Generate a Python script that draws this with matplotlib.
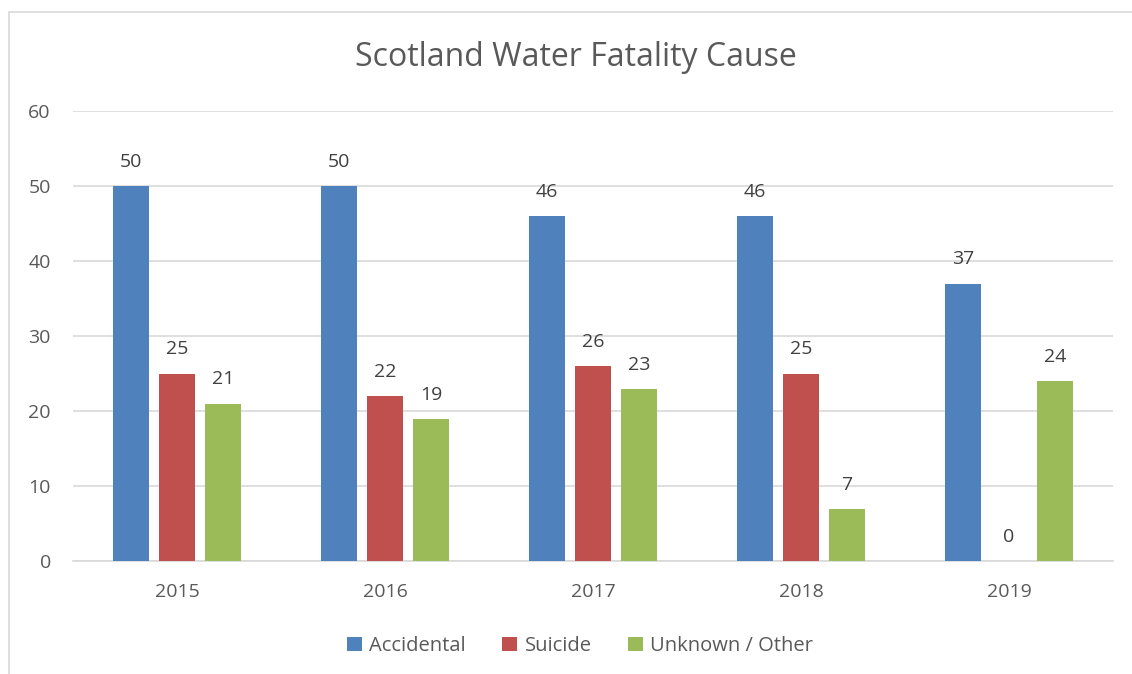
import numpy as np
import matplotlib
matplotlib.use('Agg')
import matplotlib.pyplot as plt
from matplotlib.patches import Rectangle

years = ['2015', '2016', '2017', '2018', '2019']
accidental = [50, 50, 46, 46, 37]
suicide = [25, 22, 26, 25, 0]
unknown = [21, 19, 23, 7, 24]

series = [('Accidental', accidental, '#4F81BD'),
          ('Suicide', suicide, '#C0504D'),
          ('Unknown / Other', unknown, '#9BBB59')]

plt.rcParams['font.family'] = ['Open Sans', 'DejaVu Sans']
text_col = '#595959'

fig = plt.figure(figsize=(11.32, 6.74), dpi=100)
ax = fig.add_axes([73 / 1132, 1 - 561 / 674, 1040 / 1132, 450 / 674])

# рамка діаграми (видно лише ліву і верхню сторони)
fig.patches.append(Rectangle((9 / 1132, -0.1), 1.2, 1 - 12 / 674 + 0.1,
                             transform=fig.transFigure, fill=False,
                             edgecolor='#D9D9D9', linewidth=1.2))

x = np.arange(len(years))
width = 0.173
step = 0.221
for i, (name, vals, col) in enumerate(series):
    pos = x + (i - 1) * step
    ax.bar(pos, vals, width, color=col, label=name, zorder=3)
    for p, v in zip(pos, vals):
        ax.text(p, v + 2.0, str(v), ha='center', va='bottom',
                fontsize=14, color='#404040')

ax.set_xlim(-0.5, 4.5)
ax.set_ylim(0, 60)
ax.set_yticks(range(0, 61, 10))
ax.set_xticks(x)
ax.set_xticklabels(years)
ax.grid(axis='y', color='#D9D9D9', linewidth=1.2, zorder=0)
for s in ['top', 'right', 'left']:
    ax.spines[s].set_visible(False)
ax.spines['bottom'].set_color('#D9D9D9')
ax.spines['bottom'].set_linewidth(1.2)
ax.tick_params(length=0, colors=text_col, labelsize=14)
ax.tick_params(axis='y', pad=16)
ax.tick_params(axis='x', pad=16)

fig.text(576 / 1132, 1 - 57 / 674, 'Scotland Water Fatality Cause',
         ha='center', va='center', fontsize=23, color=text_col)

fig.legend(loc='center', bbox_to_anchor=(580 / 1132, 1 - 646 / 674),
           ncol=3, frameon=False, fontsize=14.5, labelcolor=text_col,
           handlelength=0.75, handleheight=0.75, handletextpad=0.35,
           columnspacing=1.8)

fig.savefig('out.png', dpi=100)
